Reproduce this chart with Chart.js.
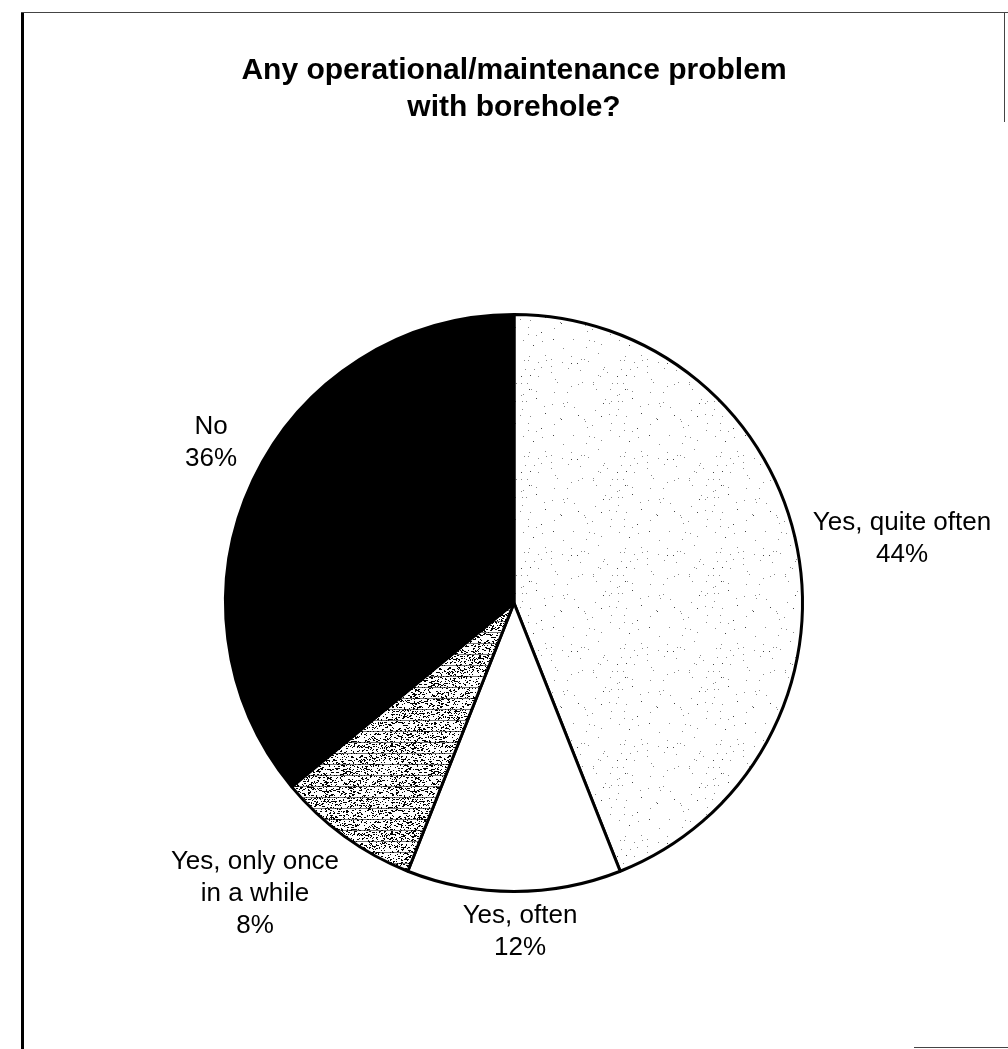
<!DOCTYPE html>
<html>
<head>
<meta charset="utf-8">
<script src="https://cdn.jsdelivr.net/npm/chart.js@4.4.1/dist/chart.umd.min.js"></script>
<style>
  html, body { margin: 0; padding: 0; background: #fff; }
  canvas { display: block; }
</style>
</head>
<body>
<canvas id="chart" width="1008" height="1049"></canvas>
<script>
// survey answers, clockwise from 12 o'clock
const titleLines = ["Any operational/maintenance problem", "with borehole?"]
const categories = [["Yes, quite often"], ["Yes, often"], ["Yes, only once", "in a while"], ["No"]]
const shares = [44, 12, 8, 36]

const FONT = "'Liberation Sans', Arial, Helvetica, sans-serif"
// label block centres, relative to the pie centre
const labelOffsets = [[388, -64], [6, 329], [-259, 291], [-303, -160]]
const labelGap = 32

// fixed-seed generator, only used for the slice textures
function seeded(seed) {
  let s = seed
  return () => (s = (s * 1664525 + 1013904223) >>> 0) / 4294967296
}

function makePattern(size, paint) {
  const c = document.createElement("canvas")
  c.width = size
  c.height = size
  const g = c.getContext("2d")
  paint(g, size)
  return g.createPattern(c, "repeat")
}

// sparse grey stipple
const stipple = makePattern(96, (g, size) => {
  const rnd = seeded(7)
  g.fillStyle = "#fff"
  g.fillRect(0, 0, size, size)
  g.fillStyle = "#8a8a8a"
  for (let i = 0; i < 80; i++) {
    g.fillRect(Math.floor(rnd() * size), Math.floor(rnd() * size), 1, 1)
  }
  g.fillStyle = "#444"
  for (let i = 0; i < 14; i++) {
    g.fillRect(Math.floor(rnd() * size), Math.floor(rnd() * size), 1, 1)
  }
})

// dense speckle with faint horizontal rules
const speckle = makePattern(88, (g, size) => {
  const rnd = seeded(21)
  g.fillStyle = "#fff"
  g.fillRect(0, 0, size, size)
  g.fillStyle = "#000"
  for (let i = 0; i < 1700; i++) {
    const w = rnd() < 0.3 ? 2 : 1
    g.fillRect(Math.floor(rnd() * size), Math.floor(rnd() * size), w, 1)
  }
  g.fillStyle = "rgba(0,0,0,0.55)"
  for (let y = 5; y < size; y += 11) {
    g.fillRect(0, y, size, 1)
  }
})

const frame = {
  id: "frame",
  beforeDraw(chart) {
    const ctx = chart.ctx
    ctx.save()
    ctx.fillStyle = "#fff"
    ctx.fillRect(0, 0, chart.width, chart.height)
    ctx.fillStyle = "#000"
    ctx.fillRect(21, 12, 3, chart.height - 12)
    ctx.fillStyle = "#444"
    ctx.fillRect(21, 12, chart.width - 21, 1)
    ctx.fillRect(1004, 12, 1, 110)
    ctx.fillRect(914, 1047, chart.width - 914, 1)
    ctx.restore()
  },
}

const sliceLabels = {
  id: "sliceLabels",
  afterDatasetsDraw(chart) {
    const ctx = chart.ctx
    const arcs = chart.getDatasetMeta(0).data
    ctx.save()
    ctx.font = `26px ${FONT}`
    ctx.fillStyle = "#000"
    ctx.textAlign = "center"
    ctx.textBaseline = "middle"
    arcs.forEach((arc, i) => {
      const lines = [...categories[i], `${shares[i]}%`]
      const [dx, dy] = labelOffsets[i]
      const top = arc.y + dy - ((lines.length - 1) * labelGap) / 2
      lines.forEach((text, j) => ctx.fillText(text, arc.x + dx, top + j * labelGap))
    })
    ctx.restore()
  },
}

new Chart(document.getElementById("chart"), {
  type: "pie",
  data: {
    labels: categories.map((c) => c.join(" ")),
    datasets: [
      {
        data: shares,
        backgroundColor: [stipple, "#fff", speckle, "#000"],
        borderColor: "#000",
        borderWidth: 3,
      },
    ],
  },
  options: {
    responsive: false,
    devicePixelRatio: 1,
    animation: false,
    layout: { padding: { left: 224, right: 204, top: 0, bottom: 156 } },
    plugins: {
      legend: { display: false },
      tooltip: { enabled: false },
      title: {
        display: true,
        text: titleLines,
        color: "#000",
        font: { family: FONT, size: 30, weight: "bold", lineHeight: 1.233 },
        padding: { top: 52, bottom: 187 },
      },
    },
  },
  plugins: [frame, sliceLabels],
})
</script>
</body>
</html>
